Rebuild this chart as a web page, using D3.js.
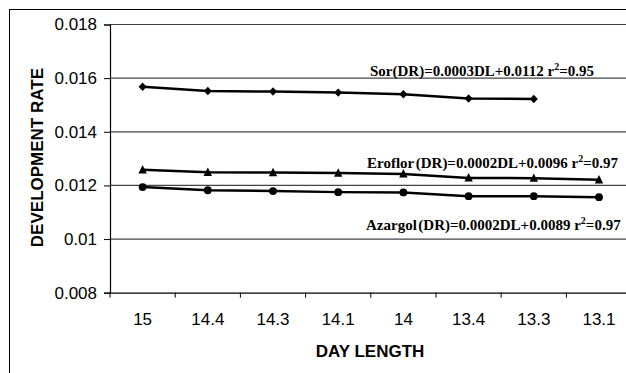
<!DOCTYPE html>
<html lang="en">
<head>
  <meta charset="UTF-8">
  <title>Development rate vs day length</title>
  <script src="https://d3js.org/d3.v7.min.js"></script>
  <style>
    body { margin: 0; background: white; }
    svg { display: block; }
    .tick text { font-family: "Liberation Sans", Arial, sans-serif; font-size: 17px; fill: black; }
    .title { font-family: "Liberation Sans", Arial, sans-serif; font-size: 17px; font-weight: bold; fill: black; }
    .eq { font-family: "Liberation Serif", "Times New Roman", serif; font-size: 15px; font-weight: bold; fill: black; }
  </style>
</head>
<body>
  <svg width="626" height="373"></svg>
  <script>
    // data
    const dayLength = ["15", "14.4", "14.3", "14.1", "14", "13.4", "13.3", "13.1"];
    const sor     = [0.01568, 0.01552, 0.01550, 0.01546, 0.01540, 0.01524, 0.01522];
    const eroflor = [0.01258, 0.01249, 0.01248, 0.01246, 0.01243, 0.01228, 0.01227, 0.01221];
    const azargol = [0.01194, 0.01182, 0.01179, 0.01175, 0.01174, 0.01160, 0.01160, 0.01156];
    const yTicks = [0.008, 0.01, 0.012, 0.014, 0.016, 0.018];

    const series = [
      { name: "Sor", values: sor, marker: "diamond",
        head: "Sor", rest: "(DR)=0.0003DL+0.0112 r", r2: "=0.95", lx: 370, ly: 76 },
      { name: "Eroflor", values: eroflor, marker: "triangle",
        head: "Eroflor", rest: "(DR)=0.0002DL+0.0096 r", r2: "=0.97", lx: 367, ly: 168 },
      { name: "Azargol", values: azargol, marker: "circle",
        head: "Azargol", rest: "(DR)=0.0002DL+0.0089 r", r2: "=0.97", lx: 366, ly: 230 }
    ];

    const svg = d3.select("svg");
    const m = { left: 110, right: 631.6, top: 24.5, bottom: 292.7 };

    // outer chart frame (runs off the picture on the right and bottom)
    svg.append("rect")
      .attr("x", 9.5).attr("y", 9.5)
      .attr("width", 700).attr("height", 400)
      .attr("fill", "none").attr("stroke", "black");

    const x = d3.scaleBand().domain(dayLength).range([m.left, m.right]);
    const y = d3.scaleLinear().domain([0.008, 0.018]).range([m.bottom, m.top]);

    // gridlines
    svg.append("g")
      .selectAll("line")
      .data(yTicks.slice(1))
      .join("line")
      .attr("x1", m.left).attr("x2", m.right)
      .attr("y1", d => y(d)).attr("y2", d => y(d))
      .attr("stroke", "#444").attr("stroke-width", 1.2);

    // y axis
    const yAxis = svg.append("g")
      .attr("transform", `translate(${m.left},0)`)
      .call(d3.axisLeft(y).tickValues(yTicks).tickSize(6).tickPadding(7)
        .tickFormat(d => String(+d.toFixed(3))));
    yAxis.select(".domain").attr("stroke", "black").attr("stroke-width", 1.2);
    yAxis.selectAll(".tick line").attr("stroke", "black");

    // x axis: labels at band centres, ticks at band edges
    const xAxis = svg.append("g")
      .attr("transform", `translate(0,${m.bottom})`)
      .call(d3.axisBottom(x).tickSize(0).tickPadding(20));
    xAxis.select(".domain").attr("stroke", "black").attr("stroke-width", 1.2);
    xAxis.append("g")
      .selectAll("line")
      .data(dayLength.map(d => x(d)).concat([m.right]))
      .join("line")
      .attr("x1", d => d).attr("x2", d => d)
      .attr("y1", 0).attr("y2", 5)
      .attr("stroke", "black");

    // axis titles
    svg.append("text").attr("class", "title")
      .attr("text-anchor", "middle")
      .attr("x", 370).attr("y", 357)
      .text("DAY LENGTH");
    svg.append("text").attr("class", "title")
      .attr("text-anchor", "middle")
      .attr("transform", `translate(43,${(m.top + m.bottom) / 2 - 1}) rotate(-90)`)
      .text("DEVELOPMENT RATE");

    // lines and markers
    const line = d3.line()
      .x((d, i) => x(dayLength[i]) + x.bandwidth() / 2)
      .y(d => y(d));

    const markerPath = {
      diamond: "M0,-4.2L4,0L0,4.2L-4,0Z",
      triangle: "M0,-4.8L4.2,3.6L-4.2,3.6Z"
    };

    series.forEach(s => {
      svg.append("path")
        .datum(s.values)
        .attr("d", line)
        .attr("fill", "none")
        .attr("stroke", "black")
        .attr("stroke-width", 2.5);

      const pts = svg.append("g")
        .selectAll("g")
        .data(s.values)
        .join("g")
        .attr("transform", (d, i) => `translate(${x(dayLength[i]) + x.bandwidth() / 2},${y(d)})`);
      if (s.marker === "circle") {
        pts.append("circle").attr("r", 3.9).attr("fill", "black");
      } else {
        pts.append("path").attr("d", markerPath[s.marker]).attr("fill", "black");
      }

      const t = svg.append("text").attr("class", "eq")
        .attr("x", s.lx).attr("y", s.ly);
      t.append("tspan").text(s.head);
      t.append("tspan").attr("dx", s.name === "Sor" ? 0 : 1.5).text(s.rest);
      t.append("tspan").attr("dy", -6).attr("font-size", 10).text("2");
      t.append("tspan").attr("dy", 6).text(s.r2);
    });
  </script>
</body>
</html>
